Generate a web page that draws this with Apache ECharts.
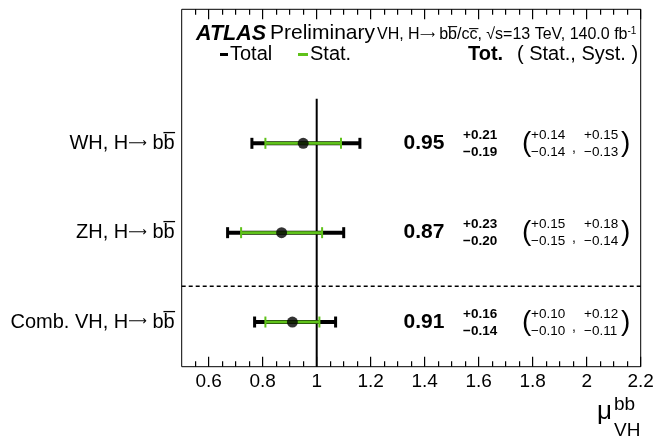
<!DOCTYPE html>
<html>
<head>
<meta charset="utf-8">
<script src="https://cdn.jsdelivr.net/npm/echarts@6/dist/echarts.min.js"></script>
<style>
html,body{margin:0;padding:0;background:#fff;}
#chart{width:657px;height:437px;}
</style>
</head>
<body>
<div id="chart"></div>
<script>
// ---------- data ----------
const categories = ['WH, H\u27F6 bb\u0305', 'ZH, H\u27F6 bb\u0305', 'Comb. VH, H\u27F6 bb\u0305'];
const central = [0.95, 0.87, 0.91];
const totUp  = [0.21, 0.23, 0.16];
const totDn  = [0.19, 0.20, 0.14];
const statUp = [0.14, 0.15, 0.10];
const statDn = [0.14, 0.15, 0.10];
const systUp = [0.15, 0.18, 0.12];
const systDn = [0.13, 0.14, 0.11];
const majorTicks = [0.6, 0.8, 1, 1.2, 1.4, 1.6, 1.8, 2, 2.2];
const minorTicks = [0.55, 0.65, 0.7, 0.75, 0.85, 0.9, 0.95, 1.05, 1.1, 1.15, 1.25, 1.3, 1.35,
  1.45, 1.5, 1.55, 1.65, 1.7, 1.75, 1.85, 1.9, 1.95, 2.05, 2.1, 2.15];
const refValue = 1;
const separatorY = 0.9;

// ---------- helpers ----------
const FONT = '"Liberation Sans", Arial, Helvetica, sans-serif';
const GREEN = '#5fc21a';
const YMAX = 4;
const n = categories.length;
const rowY = categories.map((c, i) => n - i - 0.5);
const fmt = v => v.toFixed(2);
const minus = v => '\u2212' + v.toFixed(2);
const arrowRich = s => s.replace('\u27F6', '{ar|\u27F6}');

const totalData = categories.map((c, i) => [rowY[i], central[i] - totDn[i], central[i] + totUp[i]]);
const statData = categories.map((c, i) => [rowY[i], central[i] - statDn[i], central[i] + statUp[i]]);
const pointData = categories.map((c, i) => [central[i], rowY[i]]);
const textData = categories.map((c, i) => [rowY[i], i]);
// tick marks: [value, isMajor]
const tickData = majorTicks.map(v => [v, 1]).concat(minorTicks.map(v => [v, 0]));

function errBar(color, lw, capW, capH) {
  return function (params, api) {
    const y = api.value(0);
    const p1 = api.coord([api.value(1), y]);
    const p2 = api.coord([api.value(2), y]);
    return {
      type: 'group',
      children: [
        {type: 'line', shape: {x1: p1[0], y1: p1[1], x2: p2[0], y2: p2[1]}, style: {stroke: color, lineWidth: lw}},
        {type: 'line', shape: {x1: p1[0], y1: p1[1] - capH / 2, x2: p1[0], y2: p1[1] + capH / 2}, style: {stroke: color, lineWidth: capW}},
        {type: 'line', shape: {x1: p2[0], y1: p2[1] - capH / 2, x2: p2[0], y2: p2[1] + capH / 2}, style: {stroke: color, lineWidth: capW}}
      ]
    };
  };
}

function tickItem(params, api) {
  const len = api.value(1) ? 10 : 5.5;
  const pb = api.coord([api.value(0), 0]);
  const pt = api.coord([api.value(0), YMAX]);
  const x = Math.round(pb[0] - 0.5);
  return {
    type: 'group',
    children: [
      {type: 'rect', shape: {x: x, y: pb[1] - len, width: 1.2, height: len}, style: {fill: '#000'}},
      {type: 'rect', shape: {x: x, y: pt[1], width: 1.2, height: len}, style: {fill: '#000'}}
    ]
  };
}

function rowText(params, api) {
  const i = api.value(1);
  const p = api.coord([0.5, api.value(0)]);
  const y = p[1];
  const t = (x, yy, text, size, weight, align) => ({
    type: 'text', x: x, y: yy,
    style: {text: text, fill: '#000', font: (weight || 'normal') + ' ' + size + 'px ' + FONT,
            align: align || 'left', verticalAlign: 'middle'}
  });
  return {
    type: 'group',
    children: [
      t(424, y, fmt(central[i]), 21, 'bold', 'center'),
      t(463, y - 8, '+' + fmt(totUp[i]), 13.5, 'bold'),
      t(463, y + 9, minus(totDn[i]), 13.5, 'bold'),
      t(522, y, '(', 28),
      t(531, y - 8, '+' + fmt(statUp[i]), 13.5),
      t(531, y + 9, minus(statDn[i]), 13.5),
      t(572, y + 5, ',', 14),
      t(584, y - 8, '+' + fmt(systUp[i]), 13.5),
      t(584, y + 9, minus(systDn[i]), 13.5),
      t(621, y, ')', 28)
    ]
  };
}

const chart = echarts.init(document.getElementById('chart'));
chart.setOption({
  animation: false,
  backgroundColor: '#fff',
  grid: {left: 181.7, right: 16.3, top: 9.3, bottom: 70.3, containLabel: false, outerBoundsMode: 'none',
         show: true, borderColor: '#000', borderWidth: 1, backgroundColor: 'transparent'},
  xAxis: {
    type: 'value', min: 0.5, max: 2.2,
    axisLine: {show: false},
    splitLine: {show: false},
    axisTick: {show: false},
    axisLabel: {show: true, customValues: majorTicks, fontSize: 19, fontFamily: FONT, color: '#000', margin: 6,
                formatter: v => String(+v.toFixed(2))}
  },
  yAxis: {
    type: 'value', min: 0, max: YMAX,
    axisLine: {show: false}, axisTick: {show: false}, splitLine: {show: false},
    axisLabel: {show: true, customValues: rowY, fontSize: 20, fontFamily: FONT, color: '#000', margin: 7,
      rich: {ar: {fontFamily: '"DejaVu Sans"', fontSize: 13, color: '#000'}},
      formatter: v => { const i = rowY.indexOf(v); return i >= 0 ? arrowRich(categories[i]) : ''; }}
  },
  graphic: [
    {type: 'text', left: 196, top: 23, style: {text: 'ATLAS', font: 'italic bold 21.5px ' + FONT, fill: '#000'}},
    {type: 'text', left: 270, top: 23, style: {text: 'Preliminary', font: '21px ' + FONT, fill: '#000'}},
    {type: 'text', left: 377, top: 26, style: {
      text: 'VH, H{ar|\u27F6} bb\u0305/cc\u0305, \u221As=13 TeV, 140.0 fb{sup|-1}', font: '16px ' + FONT, fill: '#000',
      rich: {sup: {fontSize: 10, fontFamily: FONT, verticalAlign: 'top', padding: [0, 0, 8, 0]},
             ar: {fontFamily: '"DejaVu Sans"', fontSize: 10.5}}}},
    {type: 'rect', shape: {x: 220, y: 53, width: 8, height: 3}, style: {fill: '#000'}},
    {type: 'text', left: 230, top: 44, style: {text: 'Total', font: '20px ' + FONT, fill: '#000'}},
    {type: 'rect', shape: {x: 298, y: 53, width: 10, height: 3}, style: {fill: GREEN}},
    {type: 'text', left: 310, top: 44, style: {text: 'Stat.', font: '20px ' + FONT, fill: '#000'}},
    {type: 'text', left: 468, top: 44, style: {text: 'Tot.', font: 'bold 20px ' + FONT, fill: '#000'}},
    {type: 'text', left: 517, top: 44, style: {text: '( Stat., Syst. )', font: '20px ' + FONT, fill: '#000'}},
    {type: 'text', left: 597, top: 399, style: {text: '\u03BC', font: '26px ' + FONT, fill: '#000'}},
    {type: 'text', left: 614, top: 395, style: {text: 'bb', font: '19px ' + FONT, fill: '#000'}},
    {type: 'text', left: 614, top: 421, style: {text: 'VH', font: '19px ' + FONT, fill: '#000'}}
  ],
  series: [
    {type: 'custom', renderItem: tickItem, data: tickData, silent: true, clip: false, z: 6},
    {type: 'line', data: [[refValue, 0], [refValue, n]], symbol: 'none', silent: true,
     lineStyle: {color: '#000', width: 2}, z: 1},
    {type: 'line', data: [[0.5, separatorY], [2.2, separatorY]], symbol: 'none', silent: true,
     lineStyle: {color: '#000', width: 1.5, type: [4, 3]}, z: 1},
    {type: 'custom', renderItem: errBar('#000', 4, 3, 11), data: totalData, z: 2},
    {type: 'custom', renderItem: errBar(GREEN, 3, 2, 11), data: statData, z: 3},
    {type: 'scatter', data: pointData, symbol: 'circle', symbolSize: 11, itemStyle: {color: '#000'}, z: 4},
    {type: 'custom', renderItem: rowText, data: textData, z: 5}
  ]
});
</script>
</body>
</html>
